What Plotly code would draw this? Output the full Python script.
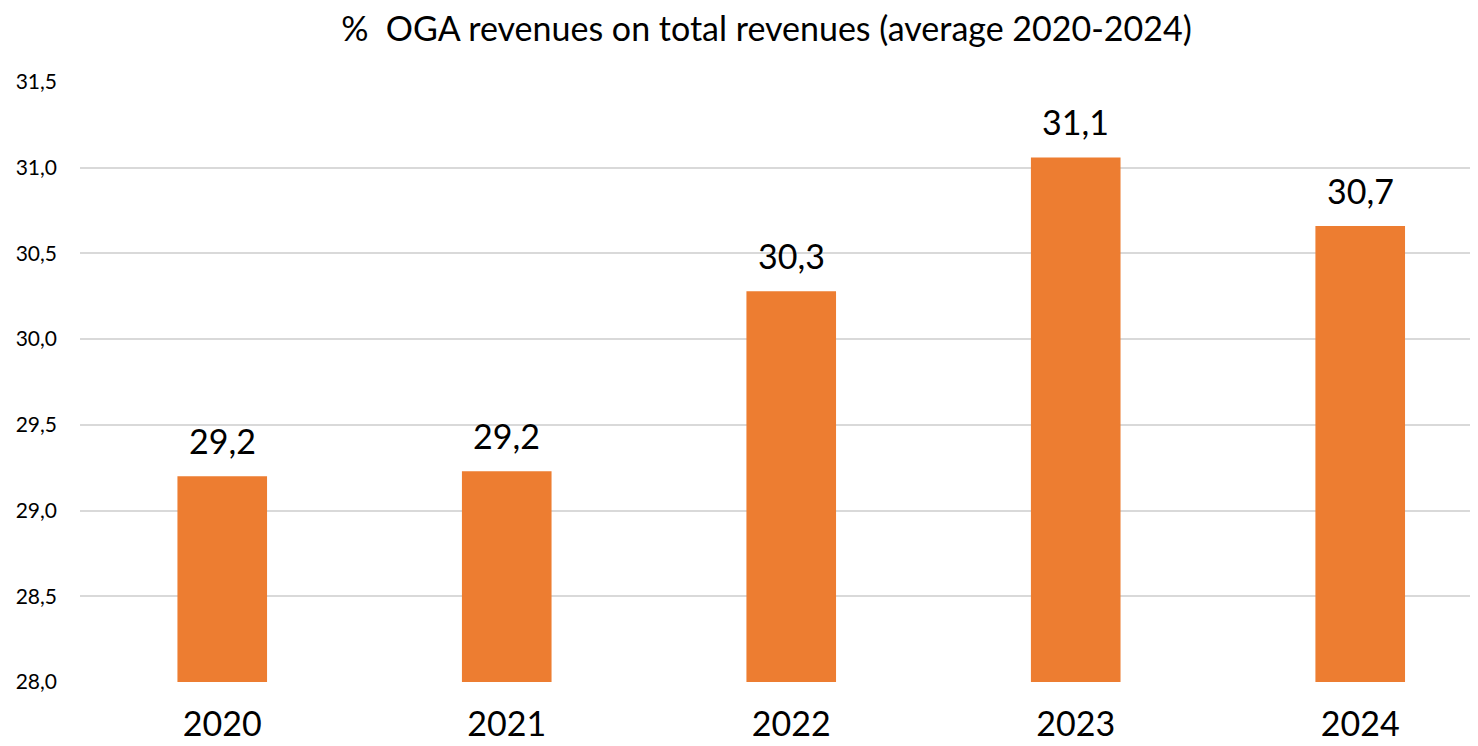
import plotly.graph_objects as go

years = ["2020", "2021", "2022", "2023", "2024"]
share = [29.20, 29.23, 30.28, 31.06, 30.66]
labels = ["29,2", "29,2", "30,3", "31,1", "30,7"]

FONT = "Lato, Calibri, sans-serif"
AXIS_MIN = 28

fig = go.Figure()
fig.add_trace(go.Bar(
    x=years,
    y=[v - AXIS_MIN for v in share],
    base=AXIS_MIN,
    width=0.315,
    marker=dict(color="#ED7D31", line=dict(width=0)),
    hoverinfo="x",
))

# value labels above bars (x given as category index)
for i, (v, lab) in enumerate(zip(share, labels)):
    fig.add_annotation(
        x=i, y=v, text=lab, showarrow=False,
        yanchor="bottom", yshift=13,
        font=dict(family=FONT, size=34, color="#000000"),
    )

# page body adds 8px margin, so the figure is sized 8px smaller
fig.update_layout(
    width=1470,
    height=738,
    margin=dict(l=72, r=0, t=74, b=64),
    paper_bgcolor="white",
    plot_bgcolor="white",
    separators=",.",
    showlegend=False,
    title=dict(
        text="%  OGA revenues on total revenues (average 2020-2024)",
        x=0.516, xanchor="center", y=0.972, yanchor="middle",
        font=dict(family=FONT, size=34, color="#000000"),
    ),
    xaxis=dict(
        type="category",
        range=[-0.5, 4.414],
        automargin=False,
        showgrid=False,
        zeroline=False,
        showline=False,
        ticks="",
        tickfont=dict(family=FONT, size=34, color="#000000"),
        ticklabelstandoff=19,
    ),
    yaxis=dict(
        range=[AXIS_MIN, 31.5],
        automargin=False,
        dtick=0.5,
        tick0=AXIS_MIN,
        tickformat=".1f",
        showgrid=True,
        gridcolor="#d9d9d9",
        gridwidth=1.5,
        zeroline=False,
        showline=False,
        ticks="",
        tickfont=dict(family=FONT, size=21, color="#000000"),
        ticklabelstandoff=22,
    ),
)

fig.write_html("out.html")
